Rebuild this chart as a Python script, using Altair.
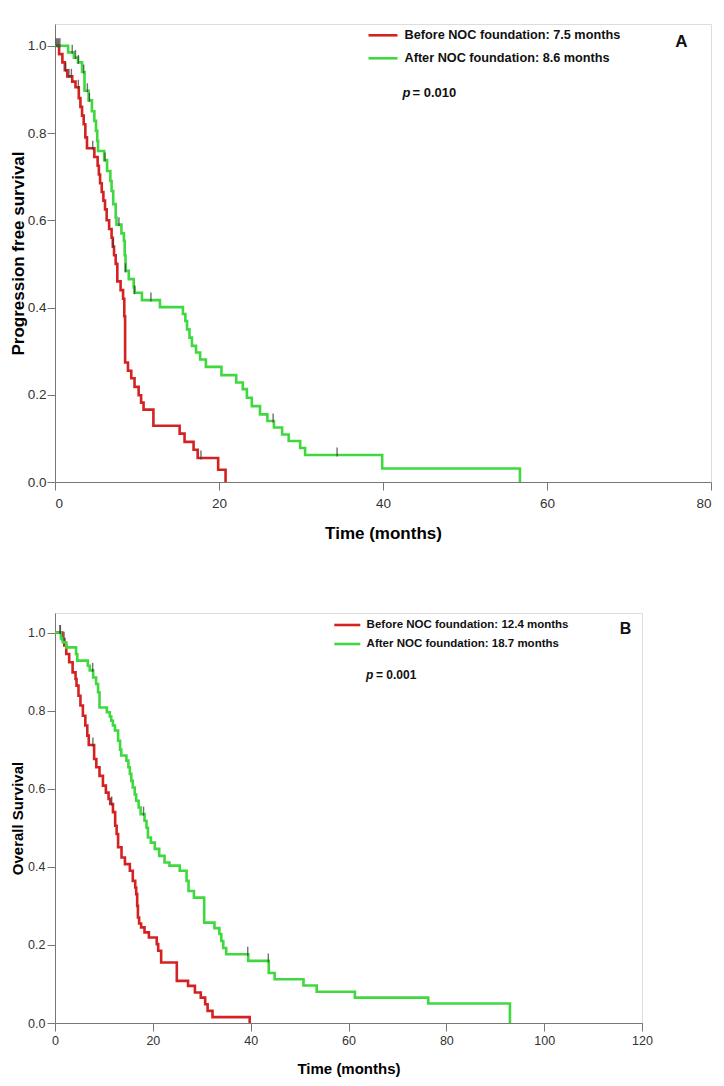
import altair as alt
import pandas as pd

FONT = "Arial"
RED = "#d42222"
GREEN = "#3fd83f"
CENS = "#333333"

GROUPS = ["Before NOC foundation", "After NOC foundation"]

# ---------------- Panel A : progression free survival ----------------
pfs_before_t = [0, 0.5, 0.9, 1.2, 1.5, 2.1, 2.5, 2.9, 3.1, 3.3, 3.5, 3.7, 3.9, 4.8, 5.2, 5.35,
                5.5, 5.7, 5.9, 6.1, 6.3, 6.6, 6.9, 7.05, 7.2, 7.4, 7.6, 8.0, 8.3, 8.45, 8.55,
                8.9, 9.3, 9.7, 10.2, 10.5, 10.8, 12.0, 15.2, 15.8, 16.9, 17.4, 19.9, 20.8]
pfs_before_s = [1.0, 0.981, 0.962, 0.944, 0.930, 0.918, 0.905, 0.880, 0.860, 0.840, 0.820, 0.790,
                0.765, 0.745, 0.725, 0.705, 0.685, 0.665, 0.645, 0.625, 0.600, 0.580, 0.560, 0.540,
                0.520, 0.500, 0.460, 0.440, 0.420, 0.380, 0.274, 0.255, 0.238, 0.218, 0.199, 0.182,
                0.166, 0.129, 0.111, 0.092, 0.074, 0.055, 0.028, 0.0]
pfs_before_cens = [0.15, 0.45, 1.3, 1.7, 2.0, 2.85, 4.6, 7.1, 17.8]

pfs_after_t = [0, 1.6, 2.3, 2.8, 3.3, 3.6, 4.1, 4.5, 4.8, 5.0, 5.15, 5.25, 6.0, 6.35, 6.75, 6.9,
               7.1, 7.4, 7.5, 8.1, 8.4, 8.5, 8.6, 9.0, 9.6, 9.7, 10.6, 12.8, 15.6, 15.9, 16.1,
               16.4, 16.7, 17.2, 17.7, 18.4, 20.3, 22.1, 22.9, 23.4, 24.0, 25.0, 25.9, 26.7,
               27.7, 28.5, 29.9, 30.5, 39.9, 56.7]
pfs_after_s = [1.0, 0.985, 0.973, 0.962, 0.940, 0.897, 0.875, 0.850, 0.828, 0.805, 0.782, 0.759,
               0.738, 0.713, 0.690, 0.667, 0.637, 0.606, 0.590, 0.570, 0.553, 0.520, 0.484, 0.465,
               0.446, 0.434, 0.417, 0.401, 0.385, 0.369, 0.350, 0.331, 0.312, 0.297, 0.281, 0.264,
               0.245, 0.228, 0.213, 0.193, 0.174, 0.155, 0.140, 0.125, 0.109, 0.094, 0.078, 0.062,
               0.031, 0.0]
pfs_after_cens = [0.3, 0.6, 2.1, 2.5, 2.85, 3.5, 3.95, 4.2, 6.1, 7.8, 8.6, 9.7, 11.7, 26.6, 34.4]

# ---------------- Panel B : overall survival ----------------
os_before_t = [0, 1.5, 1.9, 2.3, 2.9, 3.6, 4.2, 4.4, 4.8, 5.2, 5.7, 6.2, 6.6, 6.9, 8.0, 8.45,
               9.1, 9.8, 10.4, 10.95, 11.3, 11.85, 12.3, 12.6, 12.9, 13.6, 14.3, 15.3, 15.9,
               16.4, 16.6, 16.8, 16.95, 17.2, 17.6, 18.3, 19.2, 20.8, 21.1, 21.7, 24.9, 27.2,
               28.6, 29.8, 30.7, 31.2, 32.2, 39.8]
os_before_s = [1.0, 0.983, 0.967, 0.945, 0.924, 0.898, 0.881, 0.864, 0.838, 0.813, 0.787, 0.762,
               0.736, 0.712, 0.676, 0.655, 0.633, 0.608, 0.590, 0.574, 0.561, 0.540, 0.505, 0.484,
               0.450, 0.424, 0.407, 0.390, 0.364, 0.347, 0.330, 0.300, 0.270, 0.255, 0.245, 0.232,
               0.219, 0.202, 0.185, 0.155, 0.108, 0.095, 0.078, 0.065, 0.048, 0.031, 0.015, 0.0]
os_before_cens = [1.0, 1.85, 7.75, 11.6]

os_after_t = [0, 1.2, 1.6, 2.3, 4.3, 4.55, 6.7, 7.1, 7.8, 8.4, 8.8, 9.1, 10.6, 11.2, 11.5, 11.85,
              12.25, 12.9, 13.3, 13.55, 14.6, 15.0, 15.3, 15.6, 15.9, 16.3, 16.6, 17.1, 17.5,
              18.3, 18.7, 19.0, 19.6, 20.4, 21.3, 22.4, 23.4, 25.5, 26.9, 27.3, 28.4, 30.5,
              32.6, 33.6, 34.0, 34.4, 35.0, 39.5, 43.7, 44.9, 50.8, 53.5, 61.3, 76.3, 93.0]
os_after_s = [1.0, 0.985, 0.975, 0.962, 0.945, 0.928, 0.915, 0.903, 0.885, 0.868, 0.847, 0.808,
              0.796, 0.785, 0.774, 0.762, 0.749, 0.723, 0.700, 0.685, 0.672, 0.655, 0.638, 0.620,
              0.603, 0.585, 0.569, 0.552, 0.535, 0.518, 0.500, 0.475, 0.462, 0.446, 0.428, 0.411,
              0.403, 0.390, 0.364, 0.338, 0.321, 0.257, 0.243, 0.228, 0.210, 0.192, 0.176, 0.159,
              0.128, 0.112, 0.096, 0.080, 0.065, 0.050, 0.0]
os_after_cens = [1.1, 7.7, 18.1, 39.4, 43.6]

pfs_legend = ["Before NOC foundation: 7.5 months", "After NOC foundation: 8.6 months"]
os_legend = ["Before NOC foundation: 12.4 months", "After NOC foundation: 18.7 months"]
pfs_p = "0.010"
os_p = "0.001"
y_ticks = [0.0, 0.2, 0.4, 0.6, 0.8, 1.0]
pfs_x_ticks = [0, 20, 40, 60, 80]
os_x_ticks = [0, 20, 40, 60, 80, 100, 120]


def step_at(ts, ss, x):
    v = ss[0]
    for a, b in zip(ts, ss):
        if a <= x:
            v = b
    return v


def curve_df(t, s, g):
    return pd.DataFrame({"t": t, "s": s, "group": g})


def cens_df(cens, ts, ss, g):
    return pd.DataFrame({"t": cens, "s": [step_at(ts, ss, c) for c in cens], "group": g})


def panel(curves, cens, legend_txt, pval, letter, xmax, xticks, ytitle, w, h, cfg):
    xs = alt.Scale(domain=[0, xmax], nice=False, zero=True)
    ys = alt.Scale(domain=[0, 1.05], nice=False)
    xaxis = alt.Axis(values=xticks, title="Time (months)", titleFont=FONT,
                     titleFontSize=cfg["tfs"], titleFontWeight="bold", titleColor="black",
                     labelFont=FONT, labelFontSize=cfg["lfs"], labelColor="#333333",
                     domainColor="#777777", tickColor="#777777", tickSize=8, grid=False,
                     labelPadding=cfg["xlp"], titlePadding=cfg["xtp"],
                     labelFlush=cfg["flush"])
    yaxis = alt.Axis(values=y_ticks, format=".1f", title=ytitle, titleFont=FONT,
                     titleFontSize=cfg["tfs"], titleFontWeight="bold", titleColor="black",
                     labelFont=FONT, labelFontSize=cfg["lfs"], labelColor="#333333",
                     domainColor="#777777", tickColor="#777777", tickSize=8, grid=False,
                     labelPadding=cfg["ylp"], titlePadding=cfg["ytp"], labelFlush=False)
    color = alt.Color("group:N", scale=alt.Scale(domain=GROUPS, range=[RED, GREEN]), legend=None)

    lines = alt.Chart(curves).mark_line(interpolate="step-after", strokeWidth=2.6).encode(
        x=alt.X("t:Q", scale=xs, axis=xaxis),
        y=alt.Y("s:Q", scale=ys, axis=yaxis),
        color=color,
        detail="group:N",
    )
    ticks = alt.Chart(cens).mark_tick(orient="vertical", size=9, thickness=1.4,
                                      color=CENS, yOffset=-3).encode(
        x=alt.X("t:Q", scale=xs), y=alt.Y("s:Q", scale=ys))

    layers = [lines, ticks]
    leg = cfg["leg"]
    for i, (txt, col) in enumerate(zip(legend_txt, [RED, GREEN])):
        yy = leg["y0"] + i * leg["dy"]
        d = pd.DataFrame({"label": [txt]})
        layers.append(alt.Chart(d).mark_rule(color=col, strokeWidth=2.6).encode(
            x=alt.value(leg["x0"]), x2=alt.value(leg["x1"]), y=alt.value(yy)))
        layers.append(alt.Chart(d).mark_text(align="left", baseline="middle", font=FONT,
                                             fontSize=leg["fs"], fontWeight="bold",
                                             color="#111111").encode(
            x=alt.value(leg["tx"]), y=alt.value(yy), text="label:N"))
    pd_ = pd.DataFrame({"p": ["p"], "v": ["= " + pval], "letter": [letter]})
    layers.append(alt.Chart(pd_).mark_text(align="left", baseline="middle", font=FONT,
                                           fontSize=leg["pfs"], fontWeight="bold",
                                           fontStyle="italic", color="#111111").encode(
        x=alt.value(leg["px"]), y=alt.value(leg["py"]), text="p:N"))
    layers.append(alt.Chart(pd_).mark_text(align="left", baseline="middle", font=FONT,
                                           fontSize=leg["pfs"], fontWeight="bold",
                                           color="#111111").encode(
        x=alt.value(leg["vx"]), y=alt.value(leg["py"]), text="v:N"))
    layers.append(alt.Chart(pd_).mark_text(align="center", baseline="middle", font=FONT,
                                           fontSize=leg["Lfs"], fontWeight="bold",
                                           color="#111111").encode(
        x=alt.value(leg["Lx"]), y=alt.value(leg["Ly"]), text="letter:N"))
    return alt.layer(*layers).properties(width=w, height=h)


pfs_curves = pd.concat([curve_df(pfs_before_t, pfs_before_s, GROUPS[0]),
                        curve_df(pfs_after_t, pfs_after_s, GROUPS[1])])
pfs_cens = pd.concat([cens_df(pfs_before_cens, pfs_before_t, pfs_before_s, GROUPS[0]),
                      cens_df(pfs_after_cens, pfs_after_t, pfs_after_s, GROUPS[1])])
os_curves = pd.concat([curve_df(os_before_t, os_before_s, GROUPS[0]),
                       curve_df(os_after_t, os_after_s, GROUPS[1])])
os_cens = pd.concat([cens_df(os_before_cens, os_before_t, os_before_s, GROUPS[0]),
                     cens_df(os_after_cens, os_after_t, os_after_s, GROUPS[1])])

cfgA = {"tfs": 17, "lfs": 13.5, "xlp": 6, "xtp": 16, "ytp": 0, "ylp": 1, "flush": True,
        "leg": {"x0": 313.5, "x1": 342.5, "tx": 349.5, "y0": 11.3, "dy": 23, "fs": 12.7,
                "px": 347.5, "vx": 357.5, "py": 69.3, "pfs": 13, "Lx": 626.5, "Ly": 17.7,
                "Lfs": 17}}
cfgB = {"tfs": 15, "lfs": 12.5, "xlp": 3, "xtp": 15, "ytp": 2, "ylp": 2, "flush": False,
        "leg": {"x0": 279.3, "x1": 305.3, "tx": 311.6, "y0": 12, "dy": 19, "fs": 11.5,
                "px": 311, "vx": 321, "py": 62, "pfs": 12, "Lx": 570.6, "Ly": 16,
                "Lfs": 16}}

panelA = panel(pfs_curves, pfs_cens, pfs_legend, pfs_p, "A", 80, pfs_x_ticks,
               "Progression free survival", 656, 458, cfgA)
panelB = panel(os_curves, os_cens, os_legend, os_p, "B", 120, os_x_ticks,
               "Overall Survival", 587, 410, cfgB)

chart = alt.concat(alt.hconcat(panelA), alt.hconcat(panelB), columns=1, spacing=70).properties(
    padding={"left": 0, "top": 15, "right": 0, "bottom": 0}
).configure_view(stroke=None).configure(background="white")

chart.save("out.html", embed_options={"renderer": "svg", "actions": False})
